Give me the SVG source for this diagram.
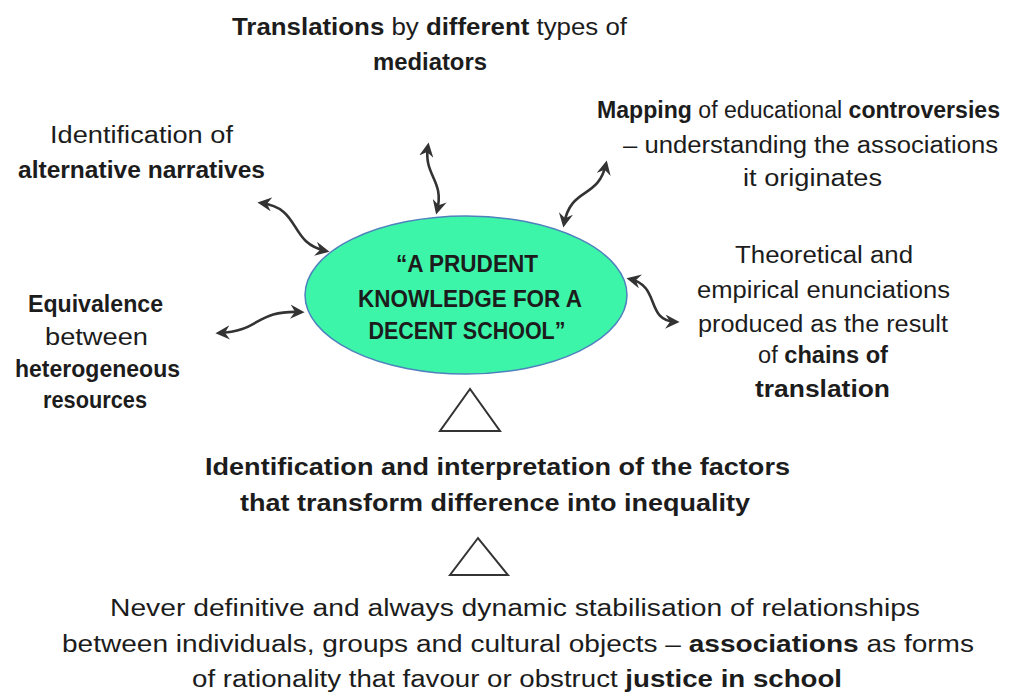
<svg xmlns="http://www.w3.org/2000/svg" width="1029" height="693" viewBox="0 0 1029 693">
<style>
text{font-family:"Liberation Sans",Arial,sans-serif;font-size:23px;fill:#1c1c1c;text-anchor:start}
.b{font-weight:bold}
.c{font-weight:bold;font-size:24px;text-anchor:middle}
.conn{fill:none;stroke:#333;stroke-width:2.6;marker-start:url(#ah);marker-end:url(#ah)}
.tri{fill:#fff;stroke:#333;stroke-width:2}
</style>
<defs>
<marker id="ah" viewBox="0 0 12 12" refX="9" refY="6" markerWidth="5.5" markerHeight="5.5" orient="auto-start-reverse" markerUnits="strokeWidth">
<path d="M0,0 L12,6 L0,12 L4,6 z" fill="#333"/>
</marker>
</defs>
<rect width="1029" height="693" fill="#fff"/>
<g id="connectors">
<path class="conn" d="M428,146 C423,176 445,180 437,211"/>
<path class="conn" d="M261,203 C302,208 288,243 326,251"/>
<path class="conn" d="M606,164 C598,200 571,186 564,224"/>
<path class="conn" d="M219,333 C262,331 254,310 301,312"/>
<path class="conn" d="M630,279 C661,286 645,321 676,322"/>
</g>
<g id="center">
<ellipse cx="466" cy="295" rx="161" ry="79" fill="#3DF5A9" stroke="#4F81BD" stroke-width="1.5"/>
<text class="c" x="467" y="272" textLength="142" lengthAdjust="spacingAndGlyphs">“A PRUDENT</text>
<text class="c" x="470" y="307" textLength="224" lengthAdjust="spacingAndGlyphs">KNOWLEDGE FOR A</text>
<text class="c" x="467" y="339" textLength="197" lengthAdjust="spacingAndGlyphs">DECENT SCHOOL”</text>
</g>
<g id="top">
<text x="232" y="35" textLength="395" lengthAdjust="spacingAndGlyphs"><tspan class="b">Translations</tspan> by <tspan class="b">different</tspan> types of</text>
<text class="b" x="373" y="70" textLength="114" lengthAdjust="spacingAndGlyphs">mediators</text>
</g>
<g id="top-left">
<text x="50" y="143" textLength="183" lengthAdjust="spacingAndGlyphs">Identification of</text>
<text class="b" x="18" y="178" textLength="247" lengthAdjust="spacingAndGlyphs">alternative narratives</text>
</g>
<g id="top-right">
<text x="597" y="118" textLength="403" lengthAdjust="spacingAndGlyphs"><tspan class="b">Mapping</tspan> of educational <tspan class="b">controversies</tspan></text>
<text x="623" y="153" textLength="375" lengthAdjust="spacingAndGlyphs">– understanding the associations</text>
<text x="743" y="186" textLength="139" lengthAdjust="spacingAndGlyphs">it originates</text>
</g>
<g id="right">
<text x="735" y="263" textLength="178" lengthAdjust="spacingAndGlyphs">Theoretical and</text>
<text x="697" y="298" textLength="253" lengthAdjust="spacingAndGlyphs">empirical enunciations</text>
<text x="698" y="332" textLength="250" lengthAdjust="spacingAndGlyphs">produced as the result</text>
<text x="758" y="363" textLength="130" lengthAdjust="spacingAndGlyphs">of <tspan class="b">chains of</tspan></text>
<text class="b" x="755" y="397" textLength="135" lengthAdjust="spacingAndGlyphs">translation</text>
</g>
<g id="left">
<text class="b" x="28" y="312" textLength="135" lengthAdjust="spacingAndGlyphs">Equivalence</text>
<text x="45" y="345" textLength="103" lengthAdjust="spacingAndGlyphs">between</text>
<text class="b" x="15" y="377" textLength="165" lengthAdjust="spacingAndGlyphs">heterogeneous</text>
<text class="b" x="43" y="408" textLength="104" lengthAdjust="spacingAndGlyphs">resources</text>
</g>
<g id="triangle-1"><polygon class="tri" points="470,389 440,431 500,431"/></g>
<g id="middle">
<text class="b" x="205" y="475" textLength="585" lengthAdjust="spacingAndGlyphs">Identification and interpretation of the factors</text>
<text class="b" x="240" y="511" textLength="510" lengthAdjust="spacingAndGlyphs">that transform difference into inequality</text>
</g>
<g id="triangle-2"><polygon class="tri" points="478,538 450,575 508,575"/></g>
<g id="bottom">
<text x="110" y="616" textLength="810" lengthAdjust="spacingAndGlyphs">Never definitive and always dynamic stabilisation of relationships</text>
<text x="62" y="652" textLength="912" lengthAdjust="spacingAndGlyphs">between  individuals, groups and cultural objects – <tspan class="b">associations</tspan>   as forms</text>
<text x="192" y="687" textLength="650" lengthAdjust="spacingAndGlyphs">of rationality that favour or obstruct <tspan class="b">justice in school</tspan></text>
</g>
</svg>
